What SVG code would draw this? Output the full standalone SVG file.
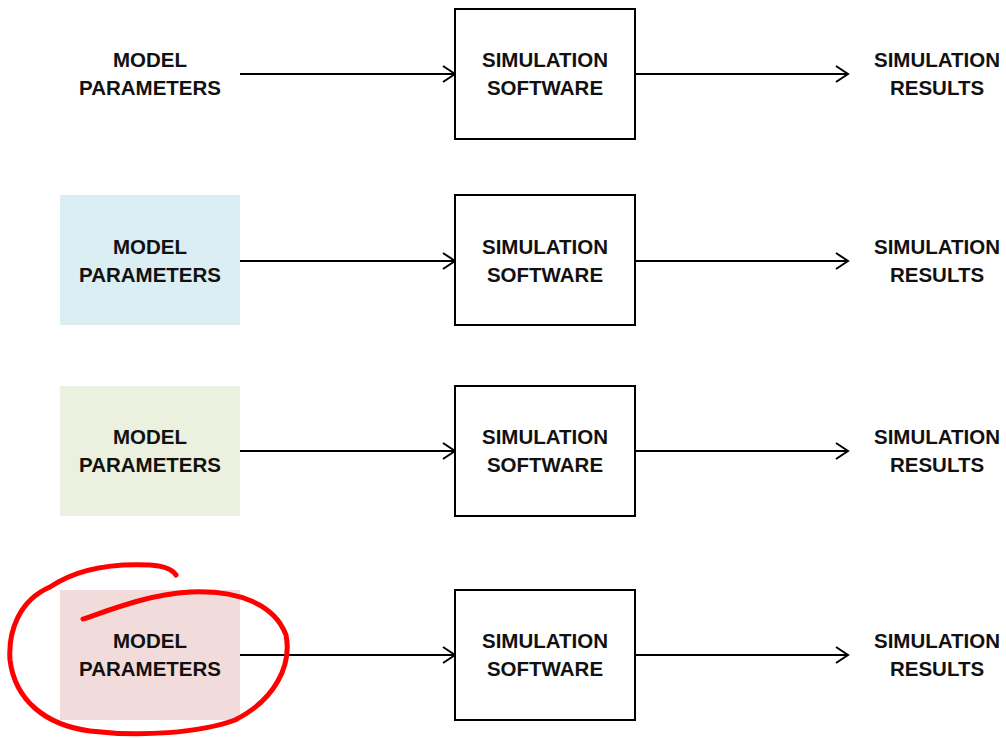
<svg xmlns="http://www.w3.org/2000/svg" width="1006" height="738" viewBox="0 0 1006 738">
<defs>
<style>
text{font-family:"Liberation Sans",Arial,sans-serif;font-weight:bold;font-size:20.5px;fill:#111;text-anchor:middle}
.box{fill:#fff;stroke:#000;stroke-width:2}
.ln{stroke:#000;stroke-width:2;fill:none;marker-end:url(#ah)}
</style>
<marker id="ah" markerUnits="userSpaceOnUse" markerWidth="20" markerHeight="20" refX="15" refY="10" orient="auto">
<polyline points="3,2 15,10 3,18" fill="none" stroke="#000" stroke-width="2"/>
</marker>
</defs>
<g id="connectors">
<line class="ln" x1="240" y1="74" x2="455" y2="74"/>
<line class="ln" x1="635" y1="74" x2="848" y2="74"/>
<line class="ln" x1="240" y1="261" x2="455" y2="261"/>
<line class="ln" x1="635" y1="261" x2="848" y2="261"/>
<line class="ln" x1="240" y1="451" x2="455" y2="451"/>
<line class="ln" x1="635" y1="451" x2="848" y2="451"/>
<line class="ln" x1="240" y1="655" x2="455" y2="655"/>
<line class="ln" x1="635" y1="655" x2="848" y2="655"/>
</g>
<g id="params1"><text x="150" y="67">MODEL</text><text x="150" y="95">PARAMETERS</text></g>
<g id="sim1"><rect class="box" x="455" y="9" width="180" height="130"/><text x="545" y="67">SIMULATION</text><text x="545" y="95">SOFTWARE</text></g>
<g id="res1"><text x="937" y="67">SIMULATION</text><text x="937" y="95">RESULTS</text></g>

<g id="params2"><rect x="60" y="195" width="180" height="130" fill="#DAEEF3"/><text x="150" y="254">MODEL</text><text x="150" y="282">PARAMETERS</text></g>
<g id="sim2"><rect class="box" x="455" y="195" width="180" height="130"/><text x="545" y="254">SIMULATION</text><text x="545" y="282">SOFTWARE</text></g>
<g id="res2"><text x="937" y="254">SIMULATION</text><text x="937" y="282">RESULTS</text></g>

<g id="params3"><rect x="60" y="386" width="180" height="130" fill="#EBF1DE"/><text x="150" y="444">MODEL</text><text x="150" y="472">PARAMETERS</text></g>
<g id="sim3"><rect class="box" x="455" y="386" width="180" height="130"/><text x="545" y="444">SIMULATION</text><text x="545" y="472">SOFTWARE</text></g>
<g id="res3"><text x="937" y="444">SIMULATION</text><text x="937" y="472">RESULTS</text></g>

<g id="params4"><rect x="60" y="590" width="180" height="130" fill="#F2DCDB"/><text x="150" y="648">MODEL</text><text x="150" y="676">PARAMETERS</text></g>
<g id="sim4"><rect class="box" x="455" y="590" width="180" height="130"/><text x="545" y="648">SIMULATION</text><text x="545" y="676">SOFTWARE</text></g>
<g id="res4"><text x="937" y="648">SIMULATION</text><text x="937" y="676">RESULTS</text></g>

<g id="circle">
<path d="M83,619 C110,610 150,594 190,592 C240,590 275,605 286,635 C292,665 275,700 235,720 C200,733 140,737 90,731 C45,725 15,700 10,660 C8,630 20,600 50,587 C75,570 110,563 150,565 C165,566 172,569 176,575" fill="none" stroke="#FF0000" stroke-width="5" stroke-linecap="round" stroke-linejoin="round"/>
</g>
</svg>
